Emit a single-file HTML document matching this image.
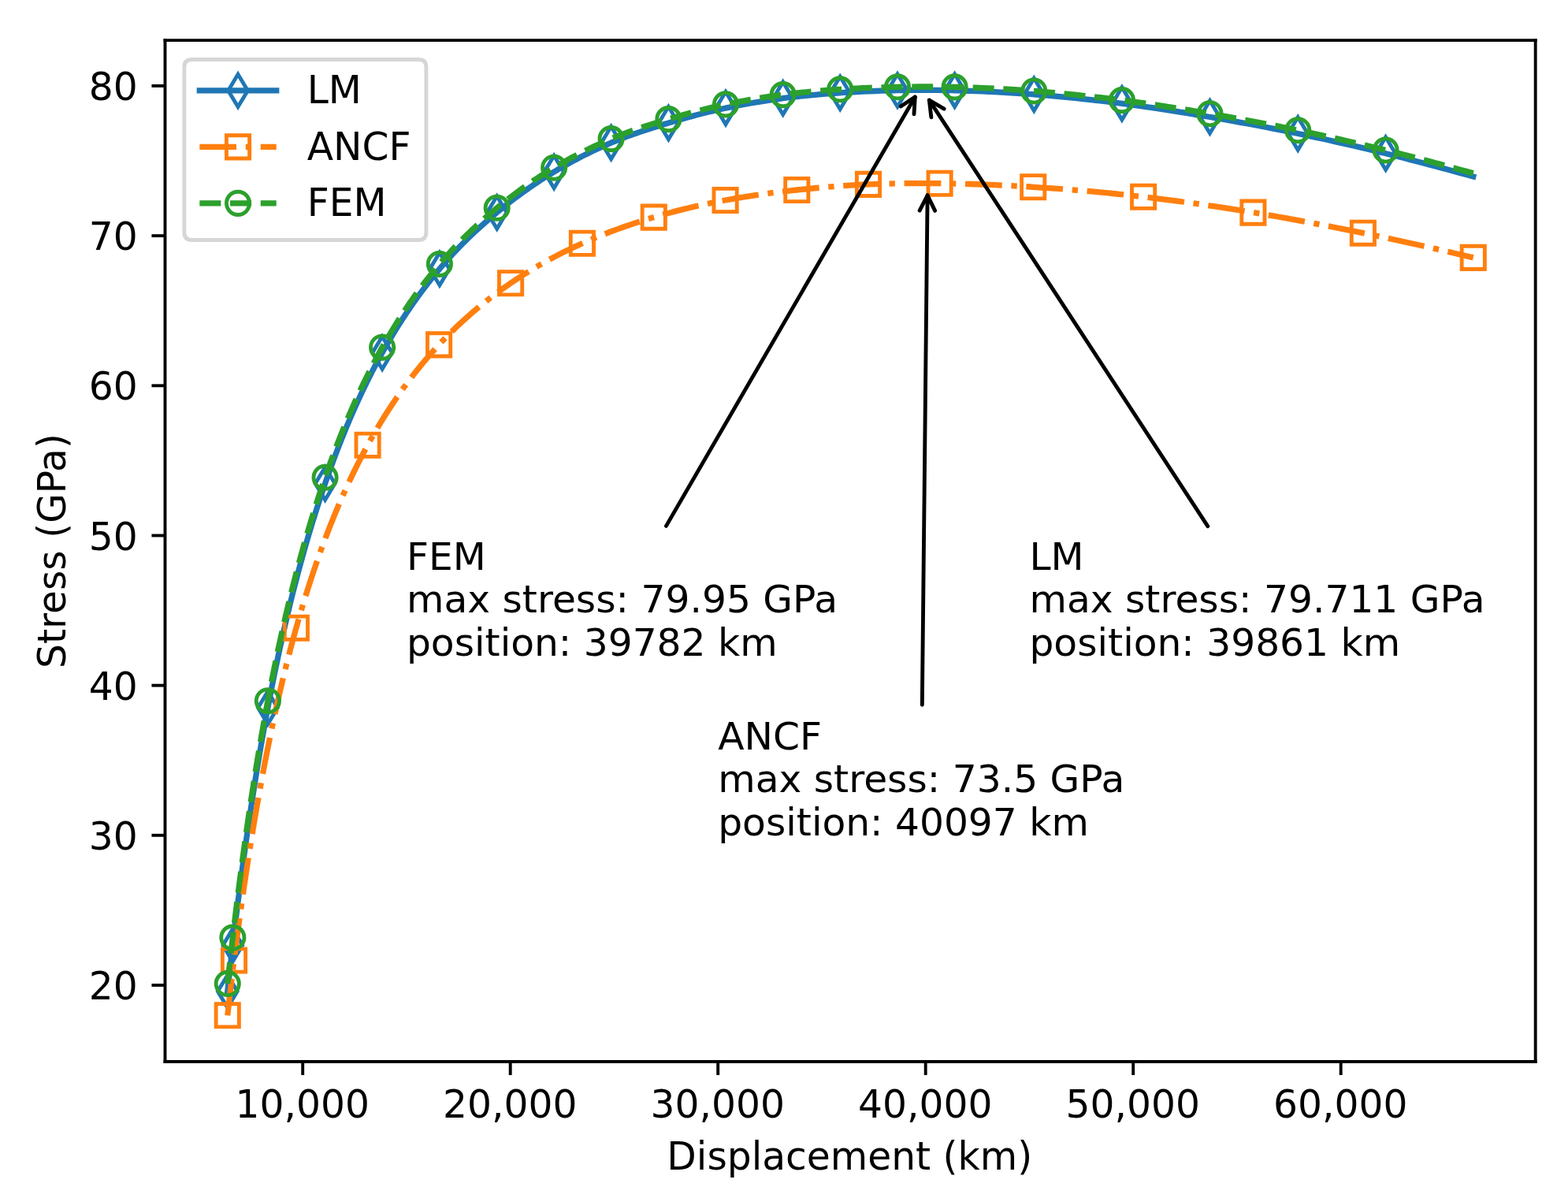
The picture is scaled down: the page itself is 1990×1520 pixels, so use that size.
<!DOCTYPE html>
<html lang="en">
<head>
<meta charset="utf-8">
<title>Stress vs Displacement</title>
<style>
html,body{margin:0;padding:0;background:#ffffff;}
body{width:1990px;height:1520px;overflow:hidden;font-family:"DejaVu Sans","Liberation Sans",sans-serif;}
svg{display:block;position:absolute;left:0;top:0;}
svg text{font-family:"DejaVu Sans","Liberation Sans",sans-serif;}
</style>
</head>
<body>
<svg width="1990" height="1520" viewBox="0 0 408.62423 312.11499" preserveAspectRatio="none">
<defs>
<style type="text/css">*{stroke-linejoin: round; stroke-linecap: butt}</style>
</defs>
<g id="figure_1">
<g id="patch_1">
<path d="M 0 312.11499 L 408.62423 312.11499 L 408.62423 0 L 0 0 z " style="fill: #ffffff"/>
</g>
<g id="axes_1">
<g id="patch_2">
<path d="M 43.01848 276.591376 L 400.143737 276.591376 L 400.143737 10.492813 L 43.01848 10.492813 z " style="fill: #ffffff"/>
</g>
<g id="matplotlib.axis_1">
<g id="xtick_1">
<g id="line2d_1">
<g>
<path d="M 0 0 L 0 3.5" transform="translate(78.89117 276.591376)" style="stroke: #000000; stroke-width: 0.8"/>
</g>
</g>
<g id="text_1">
<text style="font-size: 10px; text-anchor: middle" transform="translate(78.8090 291.1077) scale(1 1.010)">10,000</text>
</g>
</g>
<g id="xtick_2">
<g id="line2d_2">
<g>
<path d="M 0 0 L 0 3.5" transform="translate(132.997947 276.591376)" style="stroke: #000000; stroke-width: 0.8"/>
</g>
</g>
<g id="text_2">
<text style="font-size: 10px; text-anchor: middle" transform="translate(132.9158 291.1077) scale(1 1.010)">20,000</text>
</g>
</g>
<g id="xtick_3">
<g id="line2d_3">
<g>
<path d="M 0 0 L 0 3.5" transform="translate(187.104723 276.591376)" style="stroke: #000000; stroke-width: 0.8"/>
</g>
</g>
<g id="text_3">
<text style="font-size: 10px; text-anchor: middle" transform="translate(187.0226 291.1077) scale(1 1.010)">30,000</text>
</g>
</g>
<g id="xtick_4">
<g id="line2d_4">
<g>
<path d="M 0 0 L 0 3.5" transform="translate(241.211499 276.591376)" style="stroke: #000000; stroke-width: 0.8"/>
</g>
</g>
<g id="text_4">
<text style="font-size: 10px; text-anchor: middle" transform="translate(241.1294 291.1077) scale(1 1.010)">40,000</text>
</g>
</g>
<g id="xtick_5">
<g id="line2d_5">
<g>
<path d="M 0 0 L 0 3.5" transform="translate(295.318275 276.591376)" style="stroke: #000000; stroke-width: 0.8"/>
</g>
</g>
<g id="text_5">
<text style="font-size: 10px; text-anchor: middle" transform="translate(295.2361 291.1077) scale(1 1.010)">50,000</text>
</g>
</g>
<g id="xtick_6">
<g id="line2d_6">
<g>
<path d="M 0 0 L 0 3.5" transform="translate(349.425051 276.591376)" style="stroke: #000000; stroke-width: 0.8"/>
</g>
</g>
<g id="text_6">
<text style="font-size: 10px; text-anchor: middle" transform="translate(349.3429 291.1077) scale(1 1.010)">60,000</text>
</g>
</g>
<g id="text_7">
<text style="font-size: 10px; text-anchor: middle" transform="translate(221.4168 304.6626) scale(1 1.010)">Displacement (km)</text>
</g>
</g>
<g id="matplotlib.axis_2">
<g id="ytick_1">
<g id="line2d_7">
<g>
<path d="M 0 0 L -3.5 0" transform="translate(43.01848 256.673511)" style="stroke: #000000; stroke-width: 0.8"/>
</g>
</g>
<g id="text_8">
<text style="font-size: 10px; text-anchor: end" transform="translate(35.8953 260.3906) scale(1 1.010)">20</text>
</g>
</g>
<g id="ytick_2">
<g id="line2d_8">
<g>
<path d="M 0 0 L -3.5 0" transform="translate(43.01848 217.623546)" style="stroke: #000000; stroke-width: 0.8"/>
</g>
</g>
<g id="text_9">
<text style="font-size: 10px; text-anchor: end" transform="translate(35.8953 221.3406) scale(1 1.010)">30</text>
</g>
</g>
<g id="ytick_3">
<g id="line2d_9">
<g>
<path d="M 0 0 L -3.5 0" transform="translate(43.01848 178.57358)" style="stroke: #000000; stroke-width: 0.8"/>
</g>
</g>
<g id="text_10">
<text style="font-size: 10px; text-anchor: end" transform="translate(35.8953 182.2907) scale(1 1.010)">40</text>
</g>
</g>
<g id="ytick_4">
<g id="line2d_10">
<g>
<path d="M 0 0 L -3.5 0" transform="translate(43.01848 139.523614)" style="stroke: #000000; stroke-width: 0.8"/>
</g>
</g>
<g id="text_11">
<text style="font-size: 10px; text-anchor: end" transform="translate(35.8953 143.2407) scale(1 1.010)">50</text>
</g>
</g>
<g id="ytick_5">
<g id="line2d_11">
<g>
<path d="M 0 0 L -3.5 0" transform="translate(43.01848 100.473648)" style="stroke: #000000; stroke-width: 0.8"/>
</g>
</g>
<g id="text_12">
<text style="font-size: 10px; text-anchor: end" transform="translate(35.8953 104.1907) scale(1 1.010)">60</text>
</g>
</g>
<g id="ytick_6">
<g id="line2d_12">
<g>
<path d="M 0 0 L -3.5 0" transform="translate(43.01848 61.423682)" style="stroke: #000000; stroke-width: 0.8"/>
</g>
</g>
<g id="text_13">
<text style="font-size: 10px; text-anchor: end" transform="translate(35.8953 65.1408) scale(1 1.010)">70</text>
</g>
</g>
<g id="ytick_7">
<g id="line2d_13">
<g>
<path d="M 0 0 L -3.5 0" transform="translate(43.01848 22.373717)" style="stroke: #000000; stroke-width: 0.8"/>
</g>
</g>
<g id="text_14">
<text style="font-size: 10px; text-anchor: end" transform="translate(35.8953 26.0908) scale(1 1.010)">80</text>
</g>
</g>
<g id="text_15">
<text style="font-size: 10px; text-anchor: middle" transform="translate(17.0701 143.5421) rotate(-90) scale(1 1.010)">Stress (GPa)</text>
</g>
</g>
<g id="line2d_14">
<path d="M 59.293696 258.285421 L 59.547186 255.958513 L 59.800677 253.665942 L 60.054167 251.407149 L 60.307657 249.181593 L 60.561147 246.988754 L 60.646817 246.254967 L 60.814638 244.827864 L 61.068128 242.697502 L 61.321618 240.597004 L 61.575108 238.525793 L 61.828599 236.483306 L 62.082089 234.468996 L 62.335579 232.482334 L 62.589069 230.522804 L 62.84256 228.589906 L 63.09605 226.683152 L 63.34954 224.80207 L 63.60303 222.9462 L 63.856521 221.115096 L 64.110011 219.308322 L 64.363501 217.525456 L 64.616991 215.766088 L 64.870482 214.029819 L 65.123972 212.316259 L 65.377462 210.625031 L 65.630952 208.955768 L 65.884443 207.308112 L 66.137933 205.681715 L 66.391423 204.076239 L 66.644913 202.491355 L 66.898403 200.926743 L 67.151894 199.38209 L 67.405384 197.857094 L 67.658874 196.351459 L 67.912364 194.864898 L 68.165855 193.397131 L 68.419345 191.947887 L 68.672835 190.516899 L 68.926325 189.103912 L 69.179816 187.708672 L 69.433306 186.330936 L 69.686796 184.970466 L 69.794661 184.39674 L 69.940286 183.62691 L 70.193777 182.299473 L 70.447267 180.987814 L 70.700757 179.691662 L 70.954247 178.410752 L 71.207738 177.144825 L 71.461228 175.893626 L 71.714718 174.656906 L 71.968208 173.43442 L 72.221699 172.22593 L 72.475189 171.0312 L 72.728679 169.850002 L 72.982169 168.68211 L 73.23566 167.527303 L 73.48915 166.385365 L 73.74264 165.256083 L 73.99613 164.139249 L 74.249621 163.034659 L 74.503111 161.942113 L 74.756601 160.861414 L 75.010091 159.79237 L 75.263582 158.73479 L 75.517072 157.68849 L 75.770562 156.653287 L 76.024052 155.629003 L 76.277543 154.615461 L 76.531033 153.612489 L 76.784523 152.619918 L 77.038013 151.637581 L 77.291504 150.665316 L 77.544994 149.702961 L 77.798484 148.750359 L 78.051974 147.807355 L 78.305465 146.873797 L 78.558955 145.949535 L 78.812445 145.034423 L 79.065935 144.128315 L 79.319426 143.23107 L 79.572916 142.342548 L 79.826406 141.462611 L 80.079896 140.591126 L 80.333387 139.727958 L 80.586877 138.872977 L 80.840367 138.026055 L 81.093857 137.187065 L 81.347348 136.355882 L 81.600838 135.532386 L 81.854328 134.716454 L 82.107818 133.907969 L 82.361309 133.106813 L 82.614799 132.312872 L 82.868289 131.526033 L 83.121779 130.746185 L 83.37527 129.973217 L 83.62876 129.207022 L 83.88225 128.447494 L 84.13574 127.694527 L 84.38923 126.948019 L 84.642721 126.207868 L 84.722793 125.975376 L 84.896211 125.474052 L 85.149701 124.746715 L 85.403191 124.025794 L 85.656682 123.311209 L 85.910172 122.602882 L 86.163662 121.900737 L 86.417152 121.204698 L 86.670643 120.514691 L 86.924133 119.830643 L 87.177623 119.152484 L 87.431113 118.480142 L 87.684604 117.813548 L 87.938094 117.152635 L 88.191584 116.497335 L 88.445074 115.847584 L 88.698565 115.203316 L 88.952055 114.564468 L 89.205545 113.930977 L 89.459035 113.302782 L 89.712526 112.679823 L 90.524127 110.71982 L 91.335729 108.811001 L 92.147331 106.951579 L 92.958932 105.139857 L 93.770534 103.374222 L 94.582136 101.653143 L 95.393737 99.975165 L 96.205339 98.338902 L 97.01694 96.743036 L 97.828542 95.186314 L 98.640144 93.667541 L 99.451745 92.18558 L 99.609856 91.901065 L 100.263347 90.739372 L 101.074949 89.327857 L 101.88655 87.949902 L 102.698152 86.604422 L 103.509754 85.290371 L 104.321355 84.006747 L 105.132957 82.752584 L 105.944559 81.526956 L 106.75616 80.328968 L 107.567762 79.157762 L 108.379363 78.012509 L 109.190965 76.892412 L 110.002567 75.796702 L 110.814168 74.724637 L 111.62577 73.6755 L 112.437372 72.648602 L 113.248973 71.643273 L 114.060575 70.658869 L 114.558522 70.06499 L 114.872177 69.694923 L 115.683778 68.75231 L 116.49538 67.830662 L 117.306982 66.92922 L 118.118583 66.047247 L 118.930185 65.184021 L 119.741786 64.338835 L 120.553388 63.511002 L 121.36499 62.699845 L 122.176591 61.904704 L 122.988193 61.124934 L 123.799795 60.359901 L 124.611396 59.608984 L 125.422998 58.871574 L 126.2346 58.147075 L 127.046201 57.434901 L 127.857803 56.734478 L 128.669405 56.045239 L 129.481006 55.366631 L 129.507187 55.344911 L 130.292608 54.69869 L 131.104209 54.041793 L 131.915811 53.395807 L 132.727413 52.760605 L 133.539014 52.136068 L 134.350616 51.522087 L 135.162218 50.918558 L 135.973819 50.325385 L 136.785421 49.742481 L 137.597023 49.169763 L 138.408624 48.607156 L 139.220226 48.054591 L 140.031828 47.512004 L 140.843429 46.979338 L 141.655031 46.456542 L 142.466632 45.94357 L 143.278234 45.440379 L 144.089836 44.946935 L 144.373717 44.776634 L 144.901437 44.462929 L 145.713039 43.987348 L 146.524641 43.520012 L 147.336242 43.060827 L 148.147844 42.609703 L 148.959446 42.166551 L 149.771047 41.731289 L 150.582649 41.303839 L 151.394251 40.884124 L 152.205852 40.472073 L 153.017454 40.067618 L 153.829055 39.670694 L 154.640657 39.28124 L 155.452259 38.899196 L 156.26386 38.524507 L 157.075462 38.157122 L 157.887064 37.79699 L 158.698665 37.444065 L 159.26078 37.20383 L 159.510267 37.098435 L 160.321869 36.761929 L 161.13347 36.43475 L 161.945072 36.116395 L 162.756674 35.806363 L 163.568275 35.504154 L 164.379877 35.209271 L 165.191478 34.92122 L 166.00308 34.639509 L 166.814682 34.363646 L 167.626283 34.093143 L 168.437885 33.827513 L 169.249487 33.566273 L 170.061088 33.308938 L 170.87269 33.055028 L 171.684292 32.804064 L 172.495893 32.555567 L 173.307495 32.309062 L 174.119097 32.064074 L 174.209446 32.036875 L 174.930698 31.820927 L 175.7423 31.580707 L 176.553901 31.343543 L 177.365503 31.109552 L 178.177105 30.878855 L 178.988706 30.651573 L 179.800308 30.427829 L 180.61191 30.207747 L 181.423511 29.991452 L 182.235113 29.779069 L 183.046715 29.570728 L 183.858316 29.366556 L 184.669918 29.166684 L 185.48152 28.971242 L 186.293121 28.780362 L 187.104723 28.594177 L 188.74497 28.23278 L 189.117043 28.153661 L 190.385217 27.890303 L 192.025464 27.562841 L 193.66571 27.250073 L 195.305957 26.951845 L 196.946204 26.668019 L 198.586451 26.398468 L 200.226698 26.143077 L 201.866945 25.901742 L 203.507192 25.674374 L 204.045175 25.602827 L 205.147439 25.461465 L 206.787686 25.264279 L 208.427933 25.08182 L 210.06818 24.912947 L 211.708427 24.756529 L 213.348674 24.611441 L 214.98892 24.476567 L 216.629167 24.350799 L 218.269414 24.233035 L 218.932238 24.187469 L 219.909661 24.122852 L 221.549908 24.0223 L 223.190155 23.931389 L 224.830402 23.849851 L 226.470649 23.777423 L 228.110896 23.713849 L 229.751143 23.658877 L 231.39139 23.612259 L 233.031637 23.573756 L 233.880903 23.55693 L 234.671883 23.542931 L 236.31213 23.518465 L 237.952377 23.500425 L 239.592624 23.489135 L 241.232871 23.484923 L 242.873118 23.488122 L 244.513365 23.499068 L 246.153612 23.518102 L 247.793859 23.545566 L 248.788501 23.566474 L 249.434106 23.581664 L 251.074353 23.625249 L 252.7146 23.675987 L 254.354847 23.733868 L 255.995093 23.798883 L 257.63534 23.871027 L 259.275587 23.950298 L 260.915834 24.036697 L 262.556081 24.130226 L 264.196328 24.23089 L 265.836575 24.338697 L 267.476822 24.453657 L 269.117069 24.575783 L 269.466119 24.602697 L 270.757316 24.704833 L 272.397563 24.840231 L 274.03781 24.981897 L 275.678056 25.129771 L 277.318303 25.283793 L 278.95855 25.443906 L 280.598797 25.610055 L 282.239044 25.782188 L 283.879291 25.96025 L 285.519538 26.144193 L 287.159785 26.333968 L 288.800032 26.529526 L 290.440279 26.730823 L 292.080526 26.937813 L 292.38193 26.976465 L 293.720773 27.150876 L 295.36102 27.370666 L 297.001266 27.596941 L 298.641513 27.829434 L 300.28176 28.067881 L 301.922007 28.312018 L 303.562254 28.561584 L 305.202501 28.816318 L 306.842748 29.075958 L 308.482995 29.340247 L 310.123242 29.608927 L 311.763489 29.881739 L 313.403736 30.158429 L 315.043983 30.43874 L 315.297741 30.482414 L 316.684229 30.722311 L 318.324476 31.008943 L 319.964723 31.298813 L 321.60497 31.592105 L 323.245217 31.889004 L 324.885464 32.189695 L 326.525711 32.494364 L 328.165958 32.803197 L 329.806205 33.116382 L 331.446452 33.434107 L 333.086699 33.756561 L 334.726946 34.083933 L 336.367193 34.416414 L 338.007439 34.754193 L 338.234086 34.801294 L 339.647686 35.096826 L 341.287933 35.443399 L 342.92818 35.794007 L 344.568427 36.148764 L 346.208674 36.507784 L 347.848921 36.871179 L 349.489168 37.239064 L 351.129415 37.611555 L 352.769662 37.988767 L 354.409909 38.370816 L 356.050156 38.757818 L 357.690402 39.14989 L 359.330649 39.547149 L 360.970896 39.949714 L 361.10883 39.983812 L 362.611143 40.357106 L 364.25139 40.76854 L 365.891637 41.183992 L 367.531884 41.603441 L 369.172131 42.026867 L 370.812378 42.454253 L 372.452625 42.885578 L 374.092872 43.320826 L 375.733119 43.759976 L 377.373366 44.203013 L 379.013612 44.649919 L 380.653859 45.100676 L 382.294106 45.555268 L 383.934353 46.013679 " clip-path="url(#pdff85410d7)" style="fill: none; stroke: #1f77b4; stroke-width: 1.5; stroke-linecap: square"/>
<g clip-path="url(#pdff85410d7)">
<path d="M -0 4.242641 L 2.545584 0 L 0 -4.242641 L -2.545584 -0 z" transform="translate(59.293696 258.285421)" style="stroke: #1f77b4; stroke-linejoin: miter; fill-opacity: 0"/>
<path d="M -0 4.242641 L 2.545584 0 L 0 -4.242641 L -2.545584 -0 z" transform="translate(60.646817 246.254967)" style="stroke: #1f77b4; stroke-linejoin: miter; fill-opacity: 0"/>
<path d="M -0 4.242641 L 2.545584 0 L 0 -4.242641 L -2.545584 -0 z" transform="translate(69.794661 184.39674)" style="stroke: #1f77b4; stroke-linejoin: miter; fill-opacity: 0"/>
<path d="M -0 4.242641 L 2.545584 0 L 0 -4.242641 L -2.545584 -0 z" transform="translate(84.722793 125.975376)" style="stroke: #1f77b4; stroke-linejoin: miter; fill-opacity: 0"/>
<path d="M -0 4.242641 L 2.545584 0 L 0 -4.242641 L -2.545584 -0 z" transform="translate(99.609856 91.901065)" style="stroke: #1f77b4; stroke-linejoin: miter; fill-opacity: 0"/>
<path d="M -0 4.242641 L 2.545584 0 L 0 -4.242641 L -2.545584 -0 z" transform="translate(114.558522 70.06499)" style="stroke: #1f77b4; stroke-linejoin: miter; fill-opacity: 0"/>
<path d="M -0 4.242641 L 2.545584 0 L 0 -4.242641 L -2.545584 -0 z" transform="translate(129.507187 55.344911)" style="stroke: #1f77b4; stroke-linejoin: miter; fill-opacity: 0"/>
<path d="M -0 4.242641 L 2.545584 0 L 0 -4.242641 L -2.545584 -0 z" transform="translate(144.373717 44.776634)" style="stroke: #1f77b4; stroke-linejoin: miter; fill-opacity: 0"/>
<path d="M -0 4.242641 L 2.545584 0 L 0 -4.242641 L -2.545584 -0 z" transform="translate(159.26078 37.20383)" style="stroke: #1f77b4; stroke-linejoin: miter; fill-opacity: 0"/>
<path d="M -0 4.242641 L 2.545584 0 L 0 -4.242641 L -2.545584 -0 z" transform="translate(174.209446 32.036875)" style="stroke: #1f77b4; stroke-linejoin: miter; fill-opacity: 0"/>
<path d="M -0 4.242641 L 2.545584 0 L 0 -4.242641 L -2.545584 -0 z" transform="translate(189.117043 28.153661)" style="stroke: #1f77b4; stroke-linejoin: miter; fill-opacity: 0"/>
<path d="M -0 4.242641 L 2.545584 0 L 0 -4.242641 L -2.545584 -0 z" transform="translate(204.045175 25.602827)" style="stroke: #1f77b4; stroke-linejoin: miter; fill-opacity: 0"/>
<path d="M -0 4.242641 L 2.545584 0 L 0 -4.242641 L -2.545584 -0 z" transform="translate(218.932238 24.187469)" style="stroke: #1f77b4; stroke-linejoin: miter; fill-opacity: 0"/>
<path d="M -0 4.242641 L 2.545584 0 L 0 -4.242641 L -2.545584 -0 z" transform="translate(233.880903 23.55693)" style="stroke: #1f77b4; stroke-linejoin: miter; fill-opacity: 0"/>
<path d="M -0 4.242641 L 2.545584 0 L 0 -4.242641 L -2.545584 -0 z" transform="translate(248.788501 23.566474)" style="stroke: #1f77b4; stroke-linejoin: miter; fill-opacity: 0"/>
<path d="M -0 4.242641 L 2.545584 0 L 0 -4.242641 L -2.545584 -0 z" transform="translate(269.466119 24.602697)" style="stroke: #1f77b4; stroke-linejoin: miter; fill-opacity: 0"/>
<path d="M -0 4.242641 L 2.545584 0 L 0 -4.242641 L -2.545584 -0 z" transform="translate(292.38193 26.976465)" style="stroke: #1f77b4; stroke-linejoin: miter; fill-opacity: 0"/>
<path d="M -0 4.242641 L 2.545584 0 L 0 -4.242641 L -2.545584 -0 z" transform="translate(315.297741 30.482414)" style="stroke: #1f77b4; stroke-linejoin: miter; fill-opacity: 0"/>
<path d="M -0 4.242641 L 2.545584 0 L 0 -4.242641 L -2.545584 -0 z" transform="translate(338.234086 34.801294)" style="stroke: #1f77b4; stroke-linejoin: miter; fill-opacity: 0"/>
<path d="M -0 4.242641 L 2.545584 0 L 0 -4.242641 L -2.545584 -0 z" transform="translate(361.10883 39.983812)" style="stroke: #1f77b4; stroke-linejoin: miter; fill-opacity: 0"/>
</g>
</g>
<g id="line2d_15">
<path d="M 59.293696 264.537988 L 59.547186 262.292073 L 59.800677 260.072899 L 60.054167 257.88558 L 60.307657 255.735247 L 60.561147 253.627051 L 60.814638 251.566161 L 60.985626 250.205339 L 61.068128 249.556287 L 61.321618 247.580918 L 61.575108 245.633591 L 61.828599 243.713749 L 62.082089 241.820847 L 62.335579 239.954359 L 62.589069 238.113769 L 62.84256 236.298576 L 63.09605 234.508292 L 63.34954 232.742442 L 63.60303 231.000564 L 63.856521 229.282205 L 64.110011 227.586926 L 64.363501 225.914299 L 64.616991 224.263907 L 64.870482 222.635341 L 65.123972 221.028205 L 65.377462 219.442112 L 65.630952 217.876684 L 65.884443 216.331553 L 66.137933 214.80636 L 66.391423 213.300754 L 66.644913 211.814392 L 66.898403 210.346942 L 67.151894 208.898076 L 67.405384 207.467478 L 67.658874 206.054835 L 67.912364 204.659846 L 68.165855 203.282214 L 68.419345 201.921649 L 68.672835 200.577868 L 68.926325 199.250597 L 69.179816 197.939564 L 69.433306 196.644507 L 69.686796 195.365168 L 69.940286 194.101295 L 70.193777 192.852642 L 70.447267 191.618969 L 70.700757 190.400039 L 70.954247 189.195624 L 71.207738 188.005498 L 71.461228 186.829441 L 71.714718 185.667239 L 71.968208 184.51868 L 72.221699 183.383558 L 72.475189 182.261673 L 72.728679 181.152827 L 72.982169 180.056826 L 73.23566 178.973483 L 73.48915 177.902613 L 73.74264 176.844033 L 73.99613 175.797568 L 74.249621 174.763044 L 74.503111 173.74029 L 74.756601 172.729141 L 75.010091 171.729433 L 75.263582 170.741008 L 75.517072 169.763708 L 75.770562 168.797381 L 76.024052 167.841877 L 76.277543 166.897048 L 76.531033 165.96275 L 76.784523 165.038843 L 77.038013 164.125188 L 77.186858 163.593429 L 77.291504 163.221604 L 77.544994 162.327552 L 77.798484 161.442803 L 78.051974 160.567219 L 78.305465 159.700669 L 78.558955 158.84302 L 78.812445 157.994145 L 79.065935 157.153917 L 79.319426 156.322213 L 79.572916 155.49891 L 79.826406 154.68389 L 80.079896 153.877034 L 80.333387 153.078228 L 80.586877 152.287358 L 80.840367 151.504313 L 81.093857 150.728984 L 81.347348 149.961263 L 81.600838 149.201043 L 81.854328 148.448223 L 82.107818 147.702699 L 82.361309 146.96437 L 82.614799 146.233139 L 82.868289 145.508909 L 83.121779 144.791583 L 83.37527 144.081068 L 83.62876 143.377272 L 83.88225 142.680104 L 84.13574 141.989475 L 84.38923 141.305297 L 84.642721 140.627483 L 84.896211 139.955949 L 85.149701 139.290611 L 85.403191 138.631386 L 85.656682 137.978193 L 85.910172 137.330953 L 86.163662 136.689588 L 86.417152 136.054019 L 86.670643 135.424171 L 86.924133 134.799969 L 87.177623 134.18134 L 87.431113 133.568209 L 87.684604 132.960507 L 87.938094 132.358163 L 88.191584 131.761107 L 88.445074 131.16927 L 88.698565 130.582586 L 88.952055 130.000989 L 89.205545 129.424412 L 89.459035 128.852792 L 89.712526 128.286065 L 90.524127 126.50376 L 91.335729 124.76899 L 92.147331 123.079852 L 92.958932 121.434531 L 93.770534 119.831286 L 94.582136 118.268454 L 95.393737 116.744442 L 95.811088 115.975359 L 96.205339 115.257922 L 97.01694 113.808753 L 97.828542 112.395864 L 98.640144 111.018021 L 99.451745 109.674041 L 100.263347 108.362791 L 101.074949 107.083186 L 101.88655 105.834184 L 102.698152 104.614787 L 103.509754 103.424035 L 104.321355 102.261008 L 105.132957 101.12482 L 105.944559 100.014619 L 106.75616 98.929589 L 107.567762 97.86894 L 108.379363 96.831914 L 109.190965 95.817781 L 110.002567 94.825837 L 110.814168 93.855403 L 111.62577 92.905824 L 112.437372 91.976469 L 113.248973 91.066728 L 114.060575 90.176012 L 114.394251 89.815195 L 114.872177 89.303876 L 115.683778 88.450302 L 116.49538 87.614821 L 117.306982 86.796921 L 118.118583 85.996104 L 118.930185 85.211891 L 119.741786 84.443816 L 120.553388 83.691429 L 121.36499 82.954293 L 122.176591 82.231985 L 122.988193 81.524093 L 123.799795 80.83022 L 124.611396 80.149978 L 125.422998 79.482993 L 126.2346 78.828899 L 127.046201 78.187342 L 127.857803 77.557978 L 128.669405 76.940471 L 129.481006 76.334497 L 130.292608 75.739737 L 131.104209 75.155885 L 131.915811 74.582638 L 132.727413 74.019706 L 133.080082 73.778234 L 133.539014 73.466872 L 134.350616 72.924206 L 135.162218 72.391533 L 135.973819 71.868644 L 136.785421 71.355337 L 137.597023 70.851416 L 138.408624 70.356691 L 139.220226 69.870978 L 140.031828 69.394099 L 140.843429 68.92588 L 141.655031 68.466154 L 142.466632 68.014758 L 143.278234 67.571534 L 144.089836 67.136327 L 144.901437 66.708991 L 145.713039 66.289379 L 146.524641 65.877352 L 147.336242 65.472773 L 148.147844 65.07551 L 148.959446 64.685435 L 149.771047 64.302422 L 150.582649 63.926351 L 151.394251 63.557103 L 151.724846 63.408624 L 152.205852 63.194598 L 153.017454 62.838852 L 153.829055 62.489734 L 154.640657 62.147099 L 155.452259 61.810807 L 156.26386 61.480719 L 157.075462 61.156698 L 157.887064 60.838612 L 158.698665 60.52633 L 159.510267 60.219724 L 160.321869 59.918669 L 161.13347 59.62304 L 161.945072 59.332716 L 162.756674 59.04758 L 163.568275 58.767513 L 164.379877 58.492402 L 165.191478 58.222133 L 166.00308 57.956597 L 166.814682 57.695683 L 167.626283 57.439286 L 168.437885 57.187299 L 169.249487 56.939621 L 170.061088 56.696148 L 170.379877 56.601643 L 170.87269 56.456856 L 171.684292 56.221963 L 172.495893 55.991438 L 173.307495 55.765218 L 174.119097 55.543245 L 174.930698 55.32546 L 175.7423 55.111806 L 176.553901 54.902227 L 177.365503 54.696669 L 178.177105 54.495079 L 178.988706 54.297406 L 179.800308 54.103599 L 180.61191 53.913609 L 181.423511 53.727387 L 182.235113 53.544886 L 183.046715 53.366061 L 183.858316 53.190866 L 184.669918 53.019258 L 185.48152 52.851193 L 186.293121 52.68663 L 187.104723 52.525528 L 188.74497 52.210342 L 189.034908 52.156057 L 190.385217 51.908985 L 192.025464 51.621389 L 193.66571 51.347098 L 195.305957 51.08566 L 196.946204 50.836636 L 198.586451 50.599599 L 200.226698 50.374132 L 201.866945 50.159831 L 203.507192 49.956298 L 205.147439 49.76315 L 206.787686 49.58001 L 207.659138 49.486653 L 208.427933 49.406083 L 210.06818 49.238459 L 211.708427 49.077186 L 213.348674 48.922912 L 214.98892 48.776295 L 216.629167 48.637998 L 218.269414 48.508692 L 219.909661 48.389054 L 221.549908 48.279768 L 223.190155 48.181523 L 224.830402 48.095014 L 226.283368 48.028747 L 226.470649 48.020917 L 228.110896 47.957531 L 229.751143 47.903255 L 231.39139 47.857798 L 233.031637 47.820871 L 234.671883 47.792192 L 236.31213 47.771483 L 237.952377 47.758469 L 239.592624 47.752878 L 241.232871 47.754445 L 242.873118 47.762906 L 244.513365 47.778001 L 244.887064 47.782341 L 246.153612 47.799425 L 247.793859 47.826924 L 249.434106 47.860444 L 251.074353 47.89994 L 252.7146 47.945372 L 254.354847 47.996701 L 255.995093 48.053891 L 257.63534 48.116909 L 259.275587 48.185724 L 260.915834 48.260308 L 262.556081 48.340635 L 264.196328 48.426681 L 265.836575 48.518425 L 267.476822 48.615847 L 269.117069 48.71893 L 269.240246 48.726899 L 270.757316 48.826889 L 272.397563 48.938768 L 274.03781 49.054679 L 275.678056 49.174744 L 277.318303 49.299084 L 278.95855 49.427823 L 280.598797 49.561087 L 282.239044 49.699002 L 283.879291 49.841698 L 285.519538 49.989303 L 287.159785 50.141949 L 288.800032 50.299769 L 290.440279 50.462896 L 292.080526 50.631467 L 293.720773 50.805617 L 295.36102 50.985484 L 297.001266 51.171207 L 297.967146 51.283368 L 298.641513 51.362846 L 300.28176 51.559773 L 301.922007 51.761764 L 303.562254 51.968747 L 305.202501 52.180648 L 306.842748 52.397397 L 308.482995 52.618923 L 310.123242 52.845159 L 311.763489 53.076034 L 313.403736 53.311483 L 315.043983 53.551438 L 316.684229 53.795833 L 318.324476 54.044604 L 319.964723 54.297685 L 321.60497 54.555015 L 323.245217 54.816529 L 324.885464 55.082167 L 326.525711 55.351865 L 326.570842 55.359343 L 328.165958 55.625787 L 329.806205 55.904107 L 331.446452 56.186743 L 333.086699 56.473616 L 334.726946 56.764647 L 336.367193 57.059755 L 338.007439 57.358862 L 339.647686 57.661891 L 341.287933 57.968764 L 342.92818 58.279405 L 344.568427 58.593736 L 346.208674 58.911682 L 347.848921 59.233168 L 349.489168 59.558119 L 351.129415 59.88646 L 352.769662 60.218117 L 354.409909 60.553016 L 355.215606 60.718686 L 356.050156 60.891098 L 357.690402 61.232387 L 359.330649 61.576884 L 360.970896 61.924583 L 362.611143 62.275476 L 364.25139 62.629557 L 365.891637 62.98682 L 367.531884 63.347258 L 369.172131 63.710867 L 370.812378 64.077641 L 372.452625 64.447575 L 374.092872 64.820664 L 375.733119 65.196905 L 377.373366 65.576294 L 379.013612 65.958827 L 380.653859 66.3445 L 382.294106 66.733311 L 383.934353 67.125257 " clip-path="url(#pdff85410d7)" style="fill: none; stroke-dasharray: 9.6,2.4,1.5,2.4; stroke-dashoffset: 0; stroke: #ff7f0e; stroke-width: 1.5"/>
<g clip-path="url(#pdff85410d7)">
<path d="M -3 3 L 3 3 L 3 -3 L -3 -3 z" transform="translate(59.293696 264.537988)" style="stroke: #ff7f0e; stroke-linejoin: miter; fill-opacity: 0"/>
<path d="M -3 3 L 3 3 L 3 -3 L -3 -3 z" transform="translate(60.985626 250.205339)" style="stroke: #ff7f0e; stroke-linejoin: miter; fill-opacity: 0"/>
<path d="M -3 3 L 3 3 L 3 -3 L -3 -3 z" transform="translate(77.186858 163.593429)" style="stroke: #ff7f0e; stroke-linejoin: miter; fill-opacity: 0"/>
<path d="M -3 3 L 3 3 L 3 -3 L -3 -3 z" transform="translate(95.811088 115.975359)" style="stroke: #ff7f0e; stroke-linejoin: miter; fill-opacity: 0"/>
<path d="M -3 3 L 3 3 L 3 -3 L -3 -3 z" transform="translate(114.394251 89.815195)" style="stroke: #ff7f0e; stroke-linejoin: miter; fill-opacity: 0"/>
<path d="M -3 3 L 3 3 L 3 -3 L -3 -3 z" transform="translate(133.080082 73.778234)" style="stroke: #ff7f0e; stroke-linejoin: miter; fill-opacity: 0"/>
<path d="M -3 3 L 3 3 L 3 -3 L -3 -3 z" transform="translate(151.724846 63.408624)" style="stroke: #ff7f0e; stroke-linejoin: miter; fill-opacity: 0"/>
<path d="M -3 3 L 3 3 L 3 -3 L -3 -3 z" transform="translate(170.379877 56.601643)" style="stroke: #ff7f0e; stroke-linejoin: miter; fill-opacity: 0"/>
<path d="M -3 3 L 3 3 L 3 -3 L -3 -3 z" transform="translate(189.034908 52.156057)" style="stroke: #ff7f0e; stroke-linejoin: miter; fill-opacity: 0"/>
<path d="M -3 3 L 3 3 L 3 -3 L -3 -3 z" transform="translate(207.659138 49.486653)" style="stroke: #ff7f0e; stroke-linejoin: miter; fill-opacity: 0"/>
<path d="M -3 3 L 3 3 L 3 -3 L -3 -3 z" transform="translate(226.283368 48.028747)" style="stroke: #ff7f0e; stroke-linejoin: miter; fill-opacity: 0"/>
<path d="M -3 3 L 3 3 L 3 -3 L -3 -3 z" transform="translate(244.887064 47.782341)" style="stroke: #ff7f0e; stroke-linejoin: miter; fill-opacity: 0"/>
<path d="M -3 3 L 3 3 L 3 -3 L -3 -3 z" transform="translate(269.240246 48.726899)" style="stroke: #ff7f0e; stroke-linejoin: miter; fill-opacity: 0"/>
<path d="M -3 3 L 3 3 L 3 -3 L -3 -3 z" transform="translate(297.967146 51.283368)" style="stroke: #ff7f0e; stroke-linejoin: miter; fill-opacity: 0"/>
<path d="M -3 3 L 3 3 L 3 -3 L -3 -3 z" transform="translate(326.570842 55.359343)" style="stroke: #ff7f0e; stroke-linejoin: miter; fill-opacity: 0"/>
<path d="M -3 3 L 3 3 L 3 -3 L -3 -3 z" transform="translate(355.215606 60.718686)" style="stroke: #ff7f0e; stroke-linejoin: miter; fill-opacity: 0"/>
<path d="M -3 3 L 3 3 L 3 -3 L -3 -3 z" transform="translate(383.934353 67.125257)" style="stroke: #ff7f0e; stroke-linejoin: miter; fill-opacity: 0"/>
</g>
</g>
<g id="line2d_16">
<path d="M 59.293696 256.273101 L 59.547186 253.951567 L 59.800677 251.664346 L 60.054167 249.410878 L 60.307657 247.190621 L 60.561147 245.003057 L 60.646817 244.271047 L 60.814638 242.847417 L 61.068128 240.722281 L 61.321618 238.626985 L 61.575108 236.56095 L 61.828599 234.523616 L 62.082089 232.514435 L 62.335579 230.532877 L 62.589069 228.578428 L 62.84256 226.650587 L 63.09605 224.748867 L 63.34954 222.872794 L 63.60303 221.021911 L 63.856521 219.19577 L 64.110011 217.393936 L 64.363501 215.615987 L 64.616991 213.861514 L 64.870482 212.130115 L 65.123972 210.421404 L 65.377462 208.735001 L 65.630952 207.070541 L 65.884443 205.427666 L 66.137933 203.806027 L 66.391423 202.205287 L 66.644913 200.625117 L 66.898403 199.065197 L 67.151894 197.525214 L 67.405384 196.004866 L 67.658874 194.503857 L 67.912364 193.021901 L 68.165855 191.558717 L 68.419345 190.114035 L 68.672835 188.687588 L 68.926325 187.27912 L 69.179816 185.888378 L 69.433306 184.515119 L 69.686796 183.159106 L 69.794661 182.587269 L 69.940286 181.819985 L 70.193777 180.496962 L 70.447267 179.189697 L 70.700757 177.897919 L 70.954247 176.621362 L 71.207738 175.359768 L 71.461228 174.112881 L 71.714718 172.880453 L 71.968208 171.66224 L 72.221699 170.458001 L 72.475189 169.267505 L 72.728679 168.090519 L 72.982169 166.92682 L 73.23566 165.776186 L 73.48915 164.638401 L 73.74264 163.513254 L 73.99613 162.400535 L 74.249621 161.300041 L 74.503111 160.211572 L 74.756601 159.134931 L 75.010091 158.069925 L 75.263582 157.016365 L 75.517072 155.974066 L 75.770562 154.942845 L 76.024052 153.922524 L 76.277543 152.912927 L 76.531033 151.913882 L 76.784523 150.92522 L 77.038013 149.946773 L 77.291504 148.978379 L 77.544994 148.019878 L 77.798484 147.071112 L 78.051974 146.131926 L 78.305465 145.202168 L 78.558955 144.281689 L 78.812445 143.370341 L 79.065935 142.46798 L 79.319426 141.574465 L 79.572916 140.689654 L 79.826406 139.813413 L 80.079896 138.945604 L 80.333387 138.086097 L 80.586877 137.234759 L 80.840367 136.391463 L 81.093857 135.556082 L 81.347348 134.728492 L 81.600838 133.908571 L 81.854328 133.096198 L 82.107818 132.291255 L 82.361309 131.493625 L 82.614799 130.703193 L 82.868289 129.919847 L 83.121779 129.143475 L 83.37527 128.373967 L 83.62876 127.611216 L 83.88225 126.855116 L 84.13574 126.105561 L 84.38923 125.362449 L 84.642721 124.625678 L 84.722793 124.394251 L 84.896211 123.895226 L 85.149701 123.171237 L 85.403191 122.453649 L 85.656682 121.742381 L 85.910172 121.037356 L 86.163662 120.338497 L 86.417152 119.645729 L 86.670643 118.958978 L 86.924133 118.278171 L 87.177623 117.603237 L 87.431113 116.934105 L 87.684604 116.270706 L 87.938094 115.612974 L 88.191584 114.96084 L 88.445074 114.314239 L 88.698565 113.673107 L 88.952055 113.03738 L 89.205545 112.406996 L 89.459035 111.781893 L 89.712526 111.162012 L 90.524127 109.211766 L 91.335729 107.312559 L 92.147331 105.462606 L 92.958932 103.660212 L 93.770534 101.903767 L 94.582136 100.191741 L 95.393737 98.52268 L 96.205339 96.895201 L 97.01694 95.30799 L 97.828542 93.759793 L 98.640144 92.249418 L 99.451745 90.775731 L 99.609856 90.492813 L 100.263347 89.337673 L 101.074949 87.934186 L 101.88655 86.564141 L 102.698152 85.226452 L 103.509754 83.920077 L 104.321355 82.644014 L 105.132957 81.3973 L 105.944559 80.179009 L 106.75616 78.98825 L 107.567762 77.824164 L 108.379363 76.685927 L 109.190965 75.57274 L 110.002567 74.483838 L 110.814168 73.418479 L 111.62577 72.375949 L 112.437372 71.355558 L 113.248973 70.35664 L 114.060575 69.378552 L 114.558522 68.788501 L 114.872177 68.420827 L 115.683778 67.484344 L 116.49538 66.568733 L 117.306982 65.67324 L 118.118583 64.797126 L 118.930185 63.939671 L 119.741786 63.100172 L 120.553388 62.27794 L 121.36499 61.472301 L 122.176591 60.682597 L 122.988193 59.908182 L 123.799795 59.148424 L 124.611396 58.402703 L 125.422998 57.670413 L 126.2346 56.950957 L 127.046201 56.243751 L 127.857803 55.548222 L 128.669405 54.863804 L 129.481006 54.189946 L 129.507187 54.168378 L 130.292608 53.526683 L 131.104209 52.874396 L 131.915811 52.23295 L 132.727413 51.602221 L 133.539014 50.98209 L 134.350616 50.37245 L 135.162218 49.773197 L 135.973819 49.184237 L 136.785421 48.605482 L 137.597023 48.036852 L 138.408624 47.478272 L 139.220226 46.929674 L 140.031828 46.390995 L 140.843429 45.862179 L 141.655031 45.343176 L 142.466632 44.833939 L 143.278234 44.334429 L 144.089836 43.844611 L 144.373717 43.675565 L 144.901437 43.364177 L 145.713039 42.892114 L 146.524641 42.428244 L 147.336242 41.972474 L 148.147844 41.524713 L 148.959446 41.084874 L 149.771047 40.652877 L 150.582649 40.228642 L 151.394251 39.812095 L 152.205852 39.403165 L 153.017454 39.001784 L 153.829055 38.607889 L 154.640657 38.221417 L 155.452259 37.842312 L 156.26386 37.470519 L 157.075462 37.105986 L 157.887064 36.748664 L 158.698665 36.398506 L 159.26078 36.160164 L 159.510267 36.055603 L 160.321869 35.721782 L 161.13347 35.39725 L 161.945072 35.081501 L 162.756674 34.774037 L 163.568275 34.474357 L 164.379877 34.181966 L 165.191478 33.89637 L 166.00308 33.617077 L 166.814682 33.343596 L 167.626283 33.07544 L 168.437885 32.812123 L 169.249487 32.553159 L 170.061088 32.298068 L 170.87269 32.046368 L 171.684292 31.797581 L 172.495893 31.551229 L 173.307495 31.306837 L 174.119097 31.06393 L 174.209446 31.036961 L 174.930698 30.822834 L 175.7423 30.584634 L 176.553901 30.349459 L 177.365503 30.117428 L 178.177105 29.888662 L 178.988706 29.663283 L 179.800308 29.441413 L 180.61191 29.223177 L 181.423511 29.0087 L 182.235113 28.798109 L 183.046715 28.591533 L 183.858316 28.389099 L 184.669918 28.19094 L 185.48152 27.997185 L 186.293121 27.807967 L 187.104723 27.623419 L 188.74497 27.265257 L 189.117043 27.186858 L 190.385217 26.925918 L 192.025464 26.601501 L 193.66571 26.291686 L 195.305957 25.996324 L 196.946204 25.715278 L 198.586451 25.448424 L 200.226698 25.195649 L 201.866945 24.956853 L 203.507192 24.731946 L 204.045175 24.661191 L 205.147439 24.521427 L 206.787686 24.326558 L 208.427933 24.146347 L 210.06818 23.979656 L 211.708427 23.825354 L 213.348674 23.682319 L 214.98892 23.549437 L 216.629167 23.425601 L 218.269414 23.309712 L 218.932238 23.264887 L 219.909661 23.201347 L 221.549908 23.102559 L 223.190155 23.01336 L 224.830402 22.933482 L 226.470649 22.862665 L 228.110896 22.800654 L 229.751143 22.747197 L 231.39139 22.702051 L 233.031637 22.664974 L 233.880903 22.648871 L 234.671883 22.635533 L 236.31213 22.612411 L 237.952377 22.595673 L 239.592624 22.585647 L 241.232871 22.582661 L 242.873118 22.58705 L 244.513365 22.599151 L 246.153612 22.619304 L 247.793859 22.647854 L 248.788501 22.669405 L 249.434106 22.685006 L 251.074353 22.729613 L 252.7146 22.781343 L 254.354847 22.840186 L 255.995093 22.906134 L 257.63534 22.979184 L 259.275587 23.059333 L 260.915834 23.146584 L 262.556081 23.24094 L 264.196328 23.342406 L 265.836575 23.450992 L 267.476822 23.566707 L 269.117069 23.689565 L 269.466119 23.716632 L 270.757316 23.819325 L 272.397563 23.955413 L 274.03781 24.097748 L 275.678056 24.24627 L 277.318303 24.400921 L 278.95855 24.561645 L 280.598797 24.728387 L 282.239044 24.901094 L 283.879291 25.079714 L 285.519538 25.264198 L 287.159785 25.454497 L 288.800032 25.650565 L 290.440279 25.852355 L 292.080526 26.059825 L 292.38193 26.098563 L 293.720773 26.273352 L 295.36102 26.493593 L 297.001266 26.720305 L 298.641513 26.953223 L 300.28176 27.192081 L 301.922007 27.436618 L 303.562254 27.686572 L 305.202501 27.941681 L 306.842748 28.201686 L 308.482995 28.466329 L 310.123242 28.735352 L 311.763489 29.008497 L 313.403736 29.28551 L 315.043983 29.566135 L 315.297741 29.609856 L 316.684229 29.85001 L 318.324476 30.136936 L 319.964723 30.427093 L 321.60497 30.720662 L 323.245217 31.017831 L 324.885464 31.318783 L 326.525711 31.623705 L 328.165958 31.932784 L 329.806205 32.246208 L 331.446452 32.564165 L 333.086699 32.886843 L 334.726946 33.214433 L 336.367193 33.547125 L 338.007439 33.885109 L 338.234086 33.932238 L 339.647686 34.227941 L 341.287933 34.574707 L 342.92818 34.925503 L 344.568427 35.280441 L 346.208674 35.639637 L 347.848921 36.003203 L 349.489168 36.371254 L 351.129415 36.743906 L 352.769662 37.121274 L 354.409909 37.503474 L 356.050156 37.890623 L 357.690402 38.282838 L 359.330649 38.680235 L 360.970896 39.082934 L 361.10883 39.117043 L 362.611143 39.490456 L 364.25139 39.902016 L 365.891637 40.31759 L 367.531884 40.737158 L 369.172131 41.1607 L 370.812378 41.588197 L 372.452625 42.019631 L 374.092872 42.454984 L 375.733119 42.894237 L 377.373366 43.337373 L 379.013612 43.784374 L 380.653859 44.235225 L 382.294106 44.689907 L 383.934353 45.148405 " clip-path="url(#pdff85410d7)" style="fill: none; stroke-dasharray: 5.55,2.4; stroke-dashoffset: 0; stroke: #2ca02c; stroke-width: 1.5"/>
<g clip-path="url(#pdff85410d7)">
<path d="M 0 3 C 0.795609 3 1.55874 2.683901 2.12132 2.12132 C 2.683901 1.55874 3 0.795609 3 0 C 3 -0.795609 2.683901 -1.55874 2.12132 -2.12132 C 1.55874 -2.683901 0.795609 -3 0 -3 C -0.795609 -3 -1.55874 -2.683901 -2.12132 -2.12132 C -2.683901 -1.55874 -3 -0.795609 -3 0 C -3 0.795609 -2.683901 1.55874 -2.12132 2.12132 C -1.55874 2.683901 -0.795609 3 0 3 z" transform="translate(59.293696 256.273101)" style="stroke: #2ca02c; fill-opacity: 0"/>
<path d="M 0 3 C 0.795609 3 1.55874 2.683901 2.12132 2.12132 C 2.683901 1.55874 3 0.795609 3 0 C 3 -0.795609 2.683901 -1.55874 2.12132 -2.12132 C 1.55874 -2.683901 0.795609 -3 0 -3 C -0.795609 -3 -1.55874 -2.683901 -2.12132 -2.12132 C -2.683901 -1.55874 -3 -0.795609 -3 0 C -3 0.795609 -2.683901 1.55874 -2.12132 2.12132 C -1.55874 2.683901 -0.795609 3 0 3 z" transform="translate(60.646817 244.271047)" style="stroke: #2ca02c; fill-opacity: 0"/>
<path d="M 0 3 C 0.795609 3 1.55874 2.683901 2.12132 2.12132 C 2.683901 1.55874 3 0.795609 3 0 C 3 -0.795609 2.683901 -1.55874 2.12132 -2.12132 C 1.55874 -2.683901 0.795609 -3 0 -3 C -0.795609 -3 -1.55874 -2.683901 -2.12132 -2.12132 C -2.683901 -1.55874 -3 -0.795609 -3 0 C -3 0.795609 -2.683901 1.55874 -2.12132 2.12132 C -1.55874 2.683901 -0.795609 3 0 3 z" transform="translate(69.794661 182.587269)" style="stroke: #2ca02c; fill-opacity: 0"/>
<path d="M 0 3 C 0.795609 3 1.55874 2.683901 2.12132 2.12132 C 2.683901 1.55874 3 0.795609 3 0 C 3 -0.795609 2.683901 -1.55874 2.12132 -2.12132 C 1.55874 -2.683901 0.795609 -3 0 -3 C -0.795609 -3 -1.55874 -2.683901 -2.12132 -2.12132 C -2.683901 -1.55874 -3 -0.795609 -3 0 C -3 0.795609 -2.683901 1.55874 -2.12132 2.12132 C -1.55874 2.683901 -0.795609 3 0 3 z" transform="translate(84.722793 124.394251)" style="stroke: #2ca02c; fill-opacity: 0"/>
<path d="M 0 3 C 0.795609 3 1.55874 2.683901 2.12132 2.12132 C 2.683901 1.55874 3 0.795609 3 0 C 3 -0.795609 2.683901 -1.55874 2.12132 -2.12132 C 1.55874 -2.683901 0.795609 -3 0 -3 C -0.795609 -3 -1.55874 -2.683901 -2.12132 -2.12132 C -2.683901 -1.55874 -3 -0.795609 -3 0 C -3 0.795609 -2.683901 1.55874 -2.12132 2.12132 C -1.55874 2.683901 -0.795609 3 0 3 z" transform="translate(99.609856 90.492813)" style="stroke: #2ca02c; fill-opacity: 0"/>
<path d="M 0 3 C 0.795609 3 1.55874 2.683901 2.12132 2.12132 C 2.683901 1.55874 3 0.795609 3 0 C 3 -0.795609 2.683901 -1.55874 2.12132 -2.12132 C 1.55874 -2.683901 0.795609 -3 0 -3 C -0.795609 -3 -1.55874 -2.683901 -2.12132 -2.12132 C -2.683901 -1.55874 -3 -0.795609 -3 0 C -3 0.795609 -2.683901 1.55874 -2.12132 2.12132 C -1.55874 2.683901 -0.795609 3 0 3 z" transform="translate(114.558522 68.788501)" style="stroke: #2ca02c; fill-opacity: 0"/>
<path d="M 0 3 C 0.795609 3 1.55874 2.683901 2.12132 2.12132 C 2.683901 1.55874 3 0.795609 3 0 C 3 -0.795609 2.683901 -1.55874 2.12132 -2.12132 C 1.55874 -2.683901 0.795609 -3 0 -3 C -0.795609 -3 -1.55874 -2.683901 -2.12132 -2.12132 C -2.683901 -1.55874 -3 -0.795609 -3 0 C -3 0.795609 -2.683901 1.55874 -2.12132 2.12132 C -1.55874 2.683901 -0.795609 3 0 3 z" transform="translate(129.507187 54.168378)" style="stroke: #2ca02c; fill-opacity: 0"/>
<path d="M 0 3 C 0.795609 3 1.55874 2.683901 2.12132 2.12132 C 2.683901 1.55874 3 0.795609 3 0 C 3 -0.795609 2.683901 -1.55874 2.12132 -2.12132 C 1.55874 -2.683901 0.795609 -3 0 -3 C -0.795609 -3 -1.55874 -2.683901 -2.12132 -2.12132 C -2.683901 -1.55874 -3 -0.795609 -3 0 C -3 0.795609 -2.683901 1.55874 -2.12132 2.12132 C -1.55874 2.683901 -0.795609 3 0 3 z" transform="translate(144.373717 43.675565)" style="stroke: #2ca02c; fill-opacity: 0"/>
<path d="M 0 3 C 0.795609 3 1.55874 2.683901 2.12132 2.12132 C 2.683901 1.55874 3 0.795609 3 0 C 3 -0.795609 2.683901 -1.55874 2.12132 -2.12132 C 1.55874 -2.683901 0.795609 -3 0 -3 C -0.795609 -3 -1.55874 -2.683901 -2.12132 -2.12132 C -2.683901 -1.55874 -3 -0.795609 -3 0 C -3 0.795609 -2.683901 1.55874 -2.12132 2.12132 C -1.55874 2.683901 -0.795609 3 0 3 z" transform="translate(159.26078 36.160164)" style="stroke: #2ca02c; fill-opacity: 0"/>
<path d="M 0 3 C 0.795609 3 1.55874 2.683901 2.12132 2.12132 C 2.683901 1.55874 3 0.795609 3 0 C 3 -0.795609 2.683901 -1.55874 2.12132 -2.12132 C 1.55874 -2.683901 0.795609 -3 0 -3 C -0.795609 -3 -1.55874 -2.683901 -2.12132 -2.12132 C -2.683901 -1.55874 -3 -0.795609 -3 0 C -3 0.795609 -2.683901 1.55874 -2.12132 2.12132 C -1.55874 2.683901 -0.795609 3 0 3 z" transform="translate(174.209446 31.036961)" style="stroke: #2ca02c; fill-opacity: 0"/>
<path d="M 0 3 C 0.795609 3 1.55874 2.683901 2.12132 2.12132 C 2.683901 1.55874 3 0.795609 3 0 C 3 -0.795609 2.683901 -1.55874 2.12132 -2.12132 C 1.55874 -2.683901 0.795609 -3 0 -3 C -0.795609 -3 -1.55874 -2.683901 -2.12132 -2.12132 C -2.683901 -1.55874 -3 -0.795609 -3 0 C -3 0.795609 -2.683901 1.55874 -2.12132 2.12132 C -1.55874 2.683901 -0.795609 3 0 3 z" transform="translate(189.117043 27.186858)" style="stroke: #2ca02c; fill-opacity: 0"/>
<path d="M 0 3 C 0.795609 3 1.55874 2.683901 2.12132 2.12132 C 2.683901 1.55874 3 0.795609 3 0 C 3 -0.795609 2.683901 -1.55874 2.12132 -2.12132 C 1.55874 -2.683901 0.795609 -3 0 -3 C -0.795609 -3 -1.55874 -2.683901 -2.12132 -2.12132 C -2.683901 -1.55874 -3 -0.795609 -3 0 C -3 0.795609 -2.683901 1.55874 -2.12132 2.12132 C -1.55874 2.683901 -0.795609 3 0 3 z" transform="translate(204.045175 24.661191)" style="stroke: #2ca02c; fill-opacity: 0"/>
<path d="M 0 3 C 0.795609 3 1.55874 2.683901 2.12132 2.12132 C 2.683901 1.55874 3 0.795609 3 0 C 3 -0.795609 2.683901 -1.55874 2.12132 -2.12132 C 1.55874 -2.683901 0.795609 -3 0 -3 C -0.795609 -3 -1.55874 -2.683901 -2.12132 -2.12132 C -2.683901 -1.55874 -3 -0.795609 -3 0 C -3 0.795609 -2.683901 1.55874 -2.12132 2.12132 C -1.55874 2.683901 -0.795609 3 0 3 z" transform="translate(218.932238 23.264887)" style="stroke: #2ca02c; fill-opacity: 0"/>
<path d="M 0 3 C 0.795609 3 1.55874 2.683901 2.12132 2.12132 C 2.683901 1.55874 3 0.795609 3 0 C 3 -0.795609 2.683901 -1.55874 2.12132 -2.12132 C 1.55874 -2.683901 0.795609 -3 0 -3 C -0.795609 -3 -1.55874 -2.683901 -2.12132 -2.12132 C -2.683901 -1.55874 -3 -0.795609 -3 0 C -3 0.795609 -2.683901 1.55874 -2.12132 2.12132 C -1.55874 2.683901 -0.795609 3 0 3 z" transform="translate(233.880903 22.648871)" style="stroke: #2ca02c; fill-opacity: 0"/>
<path d="M 0 3 C 0.795609 3 1.55874 2.683901 2.12132 2.12132 C 2.683901 1.55874 3 0.795609 3 0 C 3 -0.795609 2.683901 -1.55874 2.12132 -2.12132 C 1.55874 -2.683901 0.795609 -3 0 -3 C -0.795609 -3 -1.55874 -2.683901 -2.12132 -2.12132 C -2.683901 -1.55874 -3 -0.795609 -3 0 C -3 0.795609 -2.683901 1.55874 -2.12132 2.12132 C -1.55874 2.683901 -0.795609 3 0 3 z" transform="translate(248.788501 22.669405)" style="stroke: #2ca02c; fill-opacity: 0"/>
<path d="M 0 3 C 0.795609 3 1.55874 2.683901 2.12132 2.12132 C 2.683901 1.55874 3 0.795609 3 0 C 3 -0.795609 2.683901 -1.55874 2.12132 -2.12132 C 1.55874 -2.683901 0.795609 -3 0 -3 C -0.795609 -3 -1.55874 -2.683901 -2.12132 -2.12132 C -2.683901 -1.55874 -3 -0.795609 -3 0 C -3 0.795609 -2.683901 1.55874 -2.12132 2.12132 C -1.55874 2.683901 -0.795609 3 0 3 z" transform="translate(269.466119 23.716632)" style="stroke: #2ca02c; fill-opacity: 0"/>
<path d="M 0 3 C 0.795609 3 1.55874 2.683901 2.12132 2.12132 C 2.683901 1.55874 3 0.795609 3 0 C 3 -0.795609 2.683901 -1.55874 2.12132 -2.12132 C 1.55874 -2.683901 0.795609 -3 0 -3 C -0.795609 -3 -1.55874 -2.683901 -2.12132 -2.12132 C -2.683901 -1.55874 -3 -0.795609 -3 0 C -3 0.795609 -2.683901 1.55874 -2.12132 2.12132 C -1.55874 2.683901 -0.795609 3 0 3 z" transform="translate(292.38193 26.098563)" style="stroke: #2ca02c; fill-opacity: 0"/>
<path d="M 0 3 C 0.795609 3 1.55874 2.683901 2.12132 2.12132 C 2.683901 1.55874 3 0.795609 3 0 C 3 -0.795609 2.683901 -1.55874 2.12132 -2.12132 C 1.55874 -2.683901 0.795609 -3 0 -3 C -0.795609 -3 -1.55874 -2.683901 -2.12132 -2.12132 C -2.683901 -1.55874 -3 -0.795609 -3 0 C -3 0.795609 -2.683901 1.55874 -2.12132 2.12132 C -1.55874 2.683901 -0.795609 3 0 3 z" transform="translate(315.297741 29.609856)" style="stroke: #2ca02c; fill-opacity: 0"/>
<path d="M 0 3 C 0.795609 3 1.55874 2.683901 2.12132 2.12132 C 2.683901 1.55874 3 0.795609 3 0 C 3 -0.795609 2.683901 -1.55874 2.12132 -2.12132 C 1.55874 -2.683901 0.795609 -3 0 -3 C -0.795609 -3 -1.55874 -2.683901 -2.12132 -2.12132 C -2.683901 -1.55874 -3 -0.795609 -3 0 C -3 0.795609 -2.683901 1.55874 -2.12132 2.12132 C -1.55874 2.683901 -0.795609 3 0 3 z" transform="translate(338.234086 33.932238)" style="stroke: #2ca02c; fill-opacity: 0"/>
<path d="M 0 3 C 0.795609 3 1.55874 2.683901 2.12132 2.12132 C 2.683901 1.55874 3 0.795609 3 0 C 3 -0.795609 2.683901 -1.55874 2.12132 -2.12132 C 1.55874 -2.683901 0.795609 -3 0 -3 C -0.795609 -3 -1.55874 -2.683901 -2.12132 -2.12132 C -2.683901 -1.55874 -3 -0.795609 -3 0 C -3 0.795609 -2.683901 1.55874 -2.12132 2.12132 C -1.55874 2.683901 -0.795609 3 0 3 z" transform="translate(361.10883 39.117043)" style="stroke: #2ca02c; fill-opacity: 0"/>
</g>
</g>
<g id="patch_3">
<path d="M 43.01848 276.591376 L 43.01848 10.492813 " style="fill: none; stroke: #000000; stroke-width: 0.8; stroke-linejoin: miter; stroke-linecap: square"/>
</g>
<g id="patch_4">
<path d="M 400.143737 276.591376 L 400.143737 10.492813 " style="fill: none; stroke: #000000; stroke-width: 0.8; stroke-linejoin: miter; stroke-linecap: square"/>
</g>
<g id="patch_5">
<path d="M 43.01848 276.591376 L 400.143737 276.591376 " style="fill: none; stroke: #000000; stroke-width: 0.8; stroke-linejoin: miter; stroke-linecap: square"/>
</g>
<g id="patch_6">
<path d="M 43.01848 10.492813 L 400.143737 10.492813 " style="fill: none; stroke: #000000; stroke-width: 0.8; stroke-linejoin: miter; stroke-linecap: square"/>
</g>
<g id="patch_7">
<path d="M 173.596241 137.042091 Q 206.31231 80.670156 238.467181 25.265203 " style="fill: none; stroke: #000000; stroke-linecap: round"/>
<path d="M 234.729583 27.720883 L 238.467181 25.265203 L 238.189165 29.728689 " style="fill: none; stroke: #000000; stroke-linecap: round"/>
</g>
<g id="text_16">
<text style="font-size: 10px" transform="translate(105.9446 148.3680)">FEM</text>
<text style="font-size: 10px" transform="translate(105.9446 159.5658)">max stress: 79.95 GPa</text>
<text style="font-size: 10px" transform="translate(105.9446 170.7636)">position: 39782 km</text>
</g>
<g id="patch_8">
<path d="M 314.742286 137.101487 Q 278.148315 81.139099 242.166224 26.112448 " style="fill: none; stroke: #000000; stroke-linecap: round"/>
<path d="M 242.681459 30.554805 L 242.166224 26.112448 L 246.029251 28.365674 " style="fill: none; stroke: #000000; stroke-linecap: round"/>
</g>
<g id="text_17">
<text style="font-size: 10px" transform="translate(268.2649 148.3680)">LM</text>
<text style="font-size: 10px" transform="translate(268.2649 159.5658)">max stress: 79.711 GPa</text>
<text style="font-size: 10px" transform="translate(268.2649 170.7636)">position: 39861 km</text>
</g>
<g id="patch_9">
<path d="M 240.314403 183.630198 Q 241.014889 116.694587 241.703676 50.876949 " style="fill: none; stroke: #000000; stroke-linecap: round"/>
<path d="M 239.661927 54.855801 L 241.703676 50.876949 L 243.661708 54.897659 " style="fill: none; stroke: #000000; stroke-linecap: round"/>
</g>
<g id="text_18">
<text style="font-size: 10px" transform="translate(187.1047 195.2279)">ANCF</text>
<text style="font-size: 10px" transform="translate(187.1047 206.4257)">max stress: 73.5 GPa</text>
<text style="font-size: 10px" transform="translate(187.1047 217.6235)">position: 40097 km</text>
</g>
<g id="legend_1">
<g id="patch_10">
<path d="M 50.01848 62.527188 L 109.07473 62.527188 Q 111.07473 62.527188 111.07473 60.527188 L 111.07473 17.492813 Q 111.07473 15.492813 109.07473 15.492813 L 50.01848 15.492813 Q 48.01848 15.492813 48.01848 17.492813 L 48.01848 60.527188 Q 48.01848 62.527188 50.01848 62.527188 z " style="fill: #ffffff; opacity: 0.8; stroke: #cccccc; stroke-linejoin: miter"/>
</g>
<g id="line2d_17">
<path d="M 52.01848 23.591251 L 62.01848 23.591251 L 72.01848 23.591251 " style="fill: none; stroke: #1f77b4; stroke-width: 1.5; stroke-linecap: square"/>
<g>
<path d="M -0 4.242641 L 2.545584 0 L 0 -4.242641 L -2.545584 -0 z" transform="translate(62.01848 23.591251)" style="stroke: #1f77b4; stroke-linejoin: miter; fill-opacity: 0"/>
</g>
</g>
<g id="text_19">
<text style="font-size: 10px" transform="translate(80.0185 26.9064) scale(1 1.010)">LM</text>
</g>
<g id="line2d_18">
<path d="M 52.01848 38.269376 L 62.01848 38.269376 L 72.01848 38.269376 " style="fill: none; stroke-dasharray: 9.6,2.4,1.5,2.4; stroke-dashoffset: 0; stroke: #ff7f0e; stroke-width: 1.5"/>
<g>
<path d="M -3 3 L 3 3 L 3 -3 L -3 -3 z" transform="translate(62.01848 38.269376)" style="stroke: #ff7f0e; stroke-linejoin: miter; fill-opacity: 0"/>
</g>
</g>
<g id="text_20">
<text style="font-size: 10px" transform="translate(80.0185 41.5846) scale(1 1.010)">ANCF</text>
</g>
<g id="line2d_19">
<path d="M 52.01848 52.947501 L 62.01848 52.947501 L 72.01848 52.947501 " style="fill: none; stroke-dasharray: 5.55,2.4; stroke-dashoffset: 0; stroke: #2ca02c; stroke-width: 1.5"/>
<g>
<path d="M 0 3 C 0.795609 3 1.55874 2.683901 2.12132 2.12132 C 2.683901 1.55874 3 0.795609 3 0 C 3 -0.795609 2.683901 -1.55874 2.12132 -2.12132 C 1.55874 -2.683901 0.795609 -3 0 -3 C -0.795609 -3 -1.55874 -2.683901 -2.12132 -2.12132 C -2.683901 -1.55874 -3 -0.795609 -3 0 C -3 0.795609 -2.683901 1.55874 -2.12132 2.12132 C -1.55874 2.683901 -0.795609 3 0 3 z" transform="translate(62.01848 52.947501)" style="stroke: #2ca02c; fill-opacity: 0"/>
</g>
</g>
<g id="text_21">
<text style="font-size: 10px" transform="translate(80.0185 56.2627) scale(1 1.010)">FEM</text>
</g>
</g>
</g>
</g>
<defs>
<clipPath id="pdff85410d7">
<rect x="43.01848" y="10.492813" width="357.125257" height="266.098563"/>
</clipPath>
</defs>
</svg> 
</body>
</html>
